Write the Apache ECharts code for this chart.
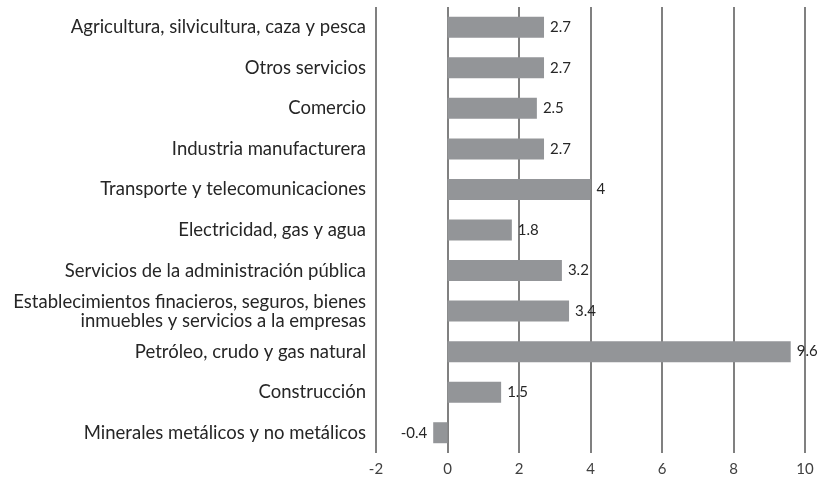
<!DOCTYPE html>
<html>
<head>
<meta charset="utf-8">
<script src="https://cdn.jsdelivr.net/npm/echarts@6/dist/echarts.min.js"></script>
<style>
  html, body { margin: 0; padding: 0; background: #fff; }
</style>
</head>
<body>
<div id="chart" style="width:821px;height:481px"></div>
<script>
// categories top to bottom
const sectores = [
    'Agricultura, silvicultura, caza y pesca',
    'Otros servicios',
    'Comercio',
    'Industria manufacturera',
    'Transporte y telecomunicaciones',
    'Electricidad, gas y agua',
    'Servicios de la administración pública',
    'Establecimientos finacieros, seguros, bienes\ninmuebles y servicios a la empresas',
    'Petróleo, crudo y gas natural',
    'Construcción',
    'Minerales metálicos y no metálicos'
];
const valores = [2.7, 2.7, 2.5, 2.7, 4, 1.8, 3.2, 3.4, 9.6, 1.5, -0.4];

const ejeMin = -2;
const ejeMax = 10;
const ejeIntervalo = 2;

const fuente = 'Lato, "Open Sans", sans-serif';

let myChart = echarts.init(document.getElementById('chart'));
const option = {
    animation: false,
    grid: {
        left: 376,
        right: 16,
        top: 7,
        bottom: 28
    },
    xAxis: {
        type: 'value',
        min: ejeMin,
        max: ejeMax,
        interval: ejeIntervalo,
        axisLine: { show: false },
        axisTick: { show: false },
        axisLabel: {
            color: '#404040',
            fontSize: 15,
            fontFamily: fuente,
            margin: 9
        },
        splitLine: {
            show: true,
            lineStyle: { color: '#808080', width: 2 }
        }
    },
    yAxis: {
        type: 'category',
        inverse: true,
        data: sectores,
        axisLine: { show: false },
        axisTick: { show: false },
        axisLabel: {
            color: '#262626',
            fontSize: 18.5,
            fontFamily: fuente,
            margin: 10,
            lineHeight: 19,
            align: 'right'
        }
    },
    series: [
        {
            type: 'bar',
            barWidth: 21,
            itemStyle: { color: '#939598' },
            label: {
                show: true,
                position: 'right',
                distance: 6,
                color: '#262626',
                fontSize: 15,
                fontFamily: fuente,
                formatter: p => String(p.value)
            },
            // negative bar gets its label on the left
            data: valores.map(v => v < 0 ? { value: v, label: { position: 'left' } } : v)
        }
    ]
};
option && myChart.setOption(option);
</script>
</body>
</html>
